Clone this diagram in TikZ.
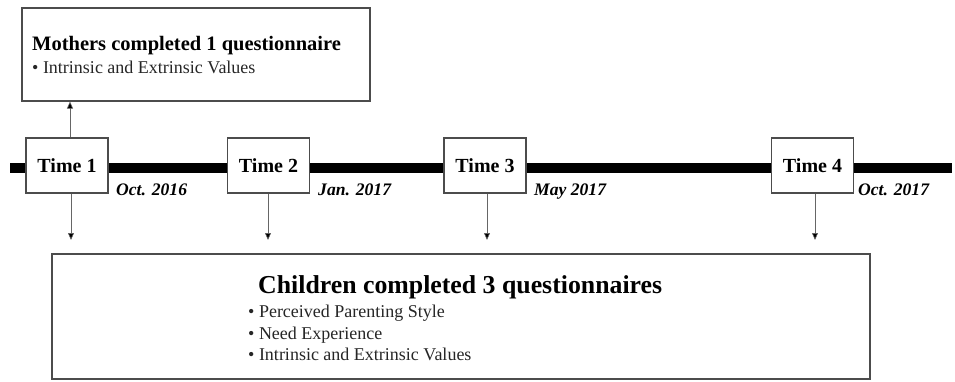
\documentclass[tikz,border=0pt]{standalone}
\usepackage{fontspec}
\setmainfont{Liberation Serif}
\usetikzlibrary{arrows.meta}
\tikzset{
  frame/.style={draw=black!70, line width=1.2pt, inner sep=0pt},
  timebox/.style={frame, fill=white, minimum width=82pt, minimum height=55pt, font=\fontsize{20}{24}\selectfont\bfseries},
  datelbl/.style={anchor=base west, inner sep=0pt, font=\fontsize{17.6}{20}\selectfont\bfseries\itshape},
  conn/.style={draw=black!60, line width=0.6pt, -{Triangle[width=6pt,length=7pt,fill=black]}},
  bul/.style={anchor=base west, inner sep=0pt, font=\fontsize{18}{20}\selectfont, text=black!85},
}
\begin{document}
\begin{tikzpicture}[x=1pt,y=-1pt]
\useasboundingbox (0,0) rectangle (955,381);
% timeline
\draw[line width=10pt, black] (10,168) -- (952,168);
% time boxes
\node[timebox] (t1) at (67,165.5) {Time 1};
\node[timebox] (t2) at (268.5,165.5) {Time 2};
\node[timebox] (t3) at (485,165.5) {Time 3};
\node[timebox] (t4) at (812.5,165.5) {Time 4};
% dates
\node[datelbl] (d1) at (116,195) {Oct. 2016};
\node[datelbl] (d2) at (318,195) {Jan. 2017};
\node[datelbl] (d3) at (534,195) {May 2017};
\node[datelbl] (d4) at (858,195) {Oct. 2017};
% mothers box
\node[frame, minimum width=348pt, minimum height=93pt] (mom) at (196,54.5) {};
\node[anchor=base west, inner sep=0pt, font=\fontsize{20.5}{24}\selectfont\bfseries] (momt) at (32,50.7) {Mothers completed 1 questionnaire};
\node[bul] (momb) at (32,73) {• Intrinsic and Extrinsic Values};
% children box
\node[frame, minimum width=818pt, minimum height=125pt] (kid) at (461,316.5) {};
\node[anchor=base west, inner sep=0pt, font=\fontsize{25.8}{30}\selectfont\bfseries] (kidt) at (258,293) {Children completed 3 questionnaires};
\node[bul] (kb1) at (248,317) {• Perceived Parenting Style};
\node[bul] (kb2) at (248,339) {• Need Experience};
\node[bul] (kb3) at (248,360) {• Intrinsic and Extrinsic Values};
% connectors
\coordinate (e1) at (71,240);
\coordinate (e2) at (268,240);
\coordinate (e3) at (487,240);
\coordinate (e4) at (815,240);
\draw[conn] (t1.north -| 70,0) -- (70,0 |- mom.south);
\draw[conn] (t1.south -| e1) -- (e1);
\draw[conn] (t2.south -| e2) -- (e2);
\draw[conn] (t3.south -| e3) -- (e3);
\draw[conn] (t4.south -| e4) -- (e4);
\end{tikzpicture}
\end{document}
